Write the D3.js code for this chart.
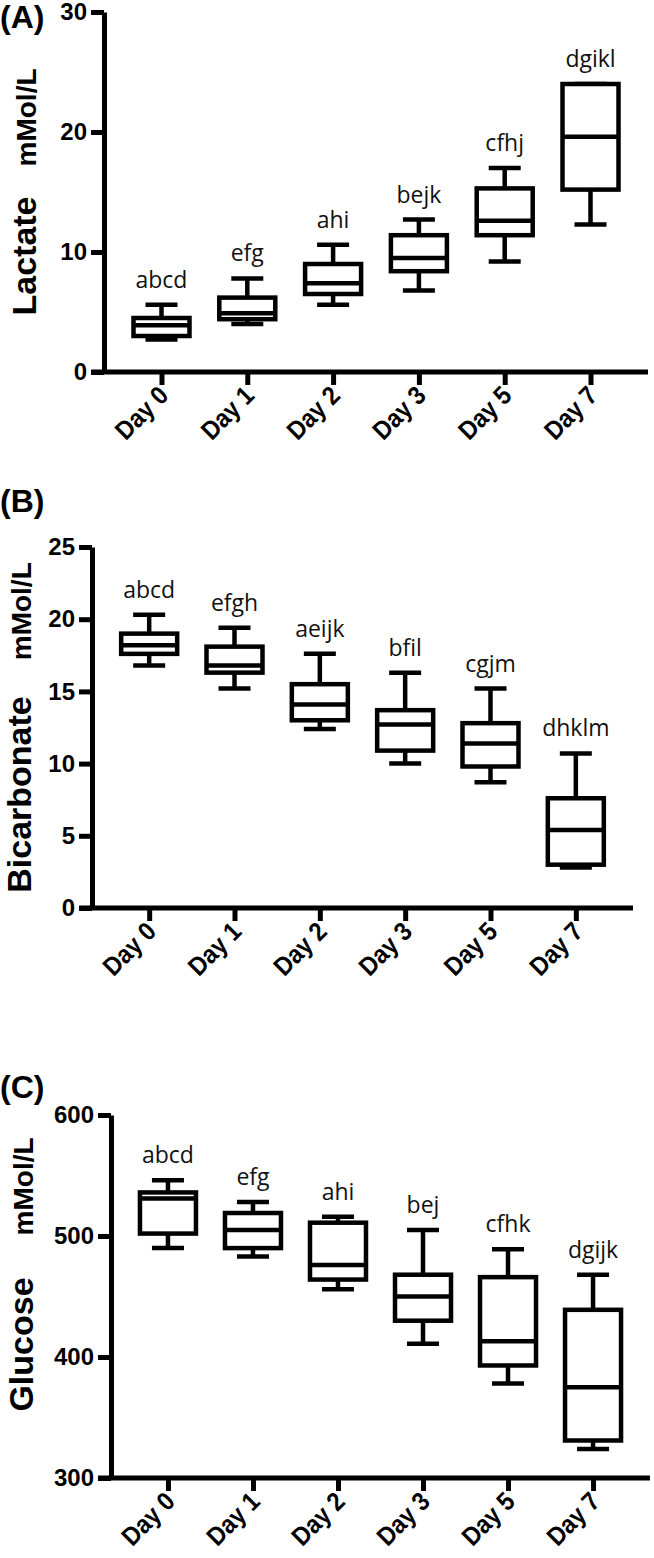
<!DOCTYPE html>
<html>
<head>
<meta charset="utf-8">
<script src="https://cdn.jsdelivr.net/npm/d3@7"></script>
<style>
  body { margin: 0; background: #fff; }
  .tick text { font-family: "Liberation Sans", Arial, sans-serif; font-weight: bold; fill: #000; }
  .letters { font-family: "Open Sans", sans-serif; font-size: 23px; fill: #111; }
</style>
</head>
<body>
<div class="chart"></div>
<script>
// categories
const days = ["Day 0", "Day 1", "Day 2", "Day 3", "Day 5", "Day 7"];

// [min, q1, median, q3, max] per day
const lactate = [
  [2.7, 3.0, 3.9, 4.5, 5.6],
  [4.0, 4.4, 4.9, 6.2, 7.8],
  [5.6, 6.5, 7.4, 9.0, 10.6],
  [6.8, 8.4, 9.5, 11.4, 12.7],
  [9.2, 11.4, 12.6, 15.3, 17.0],
  [12.3, 15.2, 19.6, 24.0, 24.0]
];
const bicarbonate = [
  [16.8, 17.6, 18.2, 19.0, 20.3],
  [15.2, 16.3, 16.8, 18.1, 19.4],
  [12.4, 13.0, 14.1, 15.5, 17.6],
  [10.0, 10.9, 12.7, 13.7, 16.3],
  [8.7, 9.8, 11.4, 12.8, 15.2],
  [2.8, 3.0, 5.4, 7.6, 10.7]
];
const glucose = [
  [490, 502, 531, 536, 546],
  [483, 490, 505, 519, 528],
  [456, 464, 476, 511, 516],
  [411, 430, 450, 468, 505],
  [378, 393, 413, 466, 489],
  [324, 331, 375, 439, 468]
];

// significance letters
const lactateLetters = ["abcd", "efg", "ahi", "bejk", "cfhj", "dgikl"];
const bicarbonateLetters = ["abcd", "efgh", "aeijk", "bfil", "cgjm", "dhklm"];
const glucoseLetters = ["abcd", "efg", "ahi", "bej", "cfhk", "dgijk"];

// y ticks
const lactateTicks = [0, 10, 20, 30];
const bicarbonateTicks = [0, 5, 10, 15, 20, 25];
const glucoseTicks = [300, 400, 500, 600];

const W = 654, H = 1558;
const svg = d3.select(".chart").append("svg")
  .attr("width", W).attr("height", H)
  .style("display", "block");

function drawPanel(opt) {
  const g = svg.append("g");
  const y = d3.scaleLinear().domain(opt.domain).range([opt.bottom, opt.top]);
  const x = d3.scalePoint().domain(days).range([opt.axisX, opt.xEnd]).padding(0.67);
  const tick = 13;
  const boxW = 56, capW = 32;

  // panel letter
  g.append("text")
    .attr("x", 0).attr("y", opt.tagY)
    .attr("font-family", "Liberation Sans, Arial, sans-serif")
    .attr("font-weight", "bold").attr("font-size", 32)
    .text(opt.tag);

  // y axis
  const yAxis = g.append("g")
    .attr("transform", `translate(${opt.axisX},0)`)
    .call(d3.axisLeft(y).tickValues(opt.ticks).tickSize(tick).tickSizeOuter(0).tickPadding(4));
  yAxis.select(".domain").attr("stroke-width", 5).attr("stroke", "#000");
  yAxis.selectAll(".tick line").attr("stroke-width", 5).attr("stroke", "#000");
  yAxis.selectAll(".tick text").attr("font-size", 24);

  // x axis
  const xAxis = g.append("g")
    .attr("transform", `translate(0,${opt.bottom})`)
    .call(d3.axisBottom(x).tickSize(tick).tickSizeOuter(0));
  xAxis.select(".domain").remove();
  xAxis.append("line")
    .attr("x1", opt.axisX - tick).attr("x2", opt.xEnd)
    .attr("stroke", "#000").attr("stroke-width", 5);
  xAxis.selectAll(".tick line").attr("stroke-width", 5).attr("stroke", "#000");
  xAxis.selectAll(".tick text")
    .attr("font-size", 26)
    .attr("text-anchor", "end")
    .attr("y", 0).attr("dy", 0)
    .attr("transform", `translate(8,${tick + 12}) rotate(-45) scale(0.9,1)`);

  // y title
  const mid = (opt.top + opt.bottom) / 2 + (opt.titleShift || 0);
  const title = g.append("text")
    .attr("transform", `translate(${opt.titleX},${mid}) rotate(-90)`)
    .attr("text-anchor", "middle")
    .attr("font-family", "Liberation Sans, Arial, sans-serif")
    .attr("font-weight", "bold");
  title.append("tspan").attr("font-size", 34).text(opt.label);
  title.append("tspan").attr("font-size", 28).attr("dx", opt.gap).text("mMol/L");

  // boxes
  const box = g.selectAll(".box")
    .data(opt.values.map((v, i) => ({ day: days[i], v: v, letter: opt.letters[i] })))
    .enter().append("g")
    .attr("class", "box")
    .attr("transform", d => `translate(${x(d.day)},0)`)
    .attr("stroke", "#000").attr("stroke-width", 4.5).attr("fill", "none");

  box.append("line") // whisker
    .attr("x1", 0).attr("x2", 0)
    .attr("y1", d => y(d.v[0])).attr("y2", d => y(d.v[4]));
  box.append("line")
    .attr("x1", -capW / 2).attr("x2", capW / 2)
    .attr("y1", d => y(d.v[0])).attr("y2", d => y(d.v[0]));
  box.append("line")
    .attr("x1", -capW / 2).attr("x2", capW / 2)
    .attr("y1", d => y(d.v[4])).attr("y2", d => y(d.v[4]));
  box.append("rect")
    .attr("x", -boxW / 2).attr("width", boxW)
    .attr("y", d => y(d.v[3]))
    .attr("height", d => y(d.v[1]) - y(d.v[3]))
    .attr("fill", "#fff");
  box.append("line") // median
    .attr("x1", -boxW / 2).attr("x2", boxW / 2)
    .attr("y1", d => y(d.v[2])).attr("y2", d => y(d.v[2]));

  g.selectAll(".letters")
    .data(opt.values.map((v, i) => ({ day: days[i], v: v, letter: opt.letters[i] })))
    .enter().append("text")
    .attr("class", "letters")
    .attr("text-anchor", "middle")
    .attr("x", d => x(d.day))
    .attr("y", d => y(d.v[4]) - 17)
    .text(d => d.letter);
}

drawPanel({
  tag: "(A)", tagY: 28, label: "Lactate", gap: 30, titleX: 36,
  values: lactate, letters: lactateLetters, ticks: lactateTicks,
  domain: [0, 30], top: 12, bottom: 372, axisX: 104, xEnd: 648
});
drawPanel({
  tag: "(B)", tagY: 512, label: "Bicarbonate", gap: 36, titleX: 31,
  values: bicarbonate, letters: bicarbonateLetters, ticks: bicarbonateTicks,
  domain: [0, 25], top: 547, bottom: 908, axisX: 92, xEnd: 633
});
drawPanel({
  tag: "(C)", tagY: 1098, label: "Glucose", gap: 42, titleX: 33, titleShift: -22,
  values: glucose, letters: glucoseLetters, ticks: glucoseTicks,
  domain: [300, 600], top: 1115, bottom: 1478, axisX: 111, xEnd: 650
});
</script>
</body>
</html>
